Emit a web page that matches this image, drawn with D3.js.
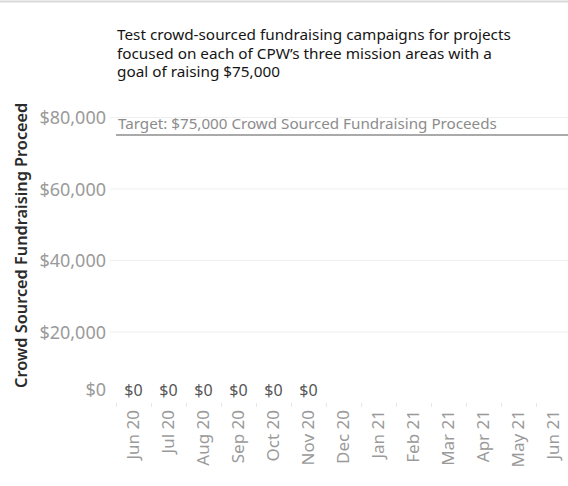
<!DOCTYPE html>
<html lang="en">
<head>
<meta charset="UTF-8">
<title>Crowd Sourced Fundraising Proceeds</title>
<script src="https://d3js.org/d3.v7.min.js"></script>
<style>
    body { margin: 0; background: #fff; }
    svg { display: block; font-family: "Noto Sans", "Open Sans", sans-serif; }
</style>
</head>
<body>
<script>
    // data
    const months = ["Jun 20", "Jul 20", "Aug 20", "Sep 20", "Oct 20", "Nov 20", "Dec 20",
                    "Jan 21", "Feb 21", "Mar 21", "Apr 21", "May 21", "Jun 21"];
    const proceeds = [0, 0, 0, 0, 0, 0];   // only Jun–Nov 20 have values
    const yTicks = [0, 20000, 40000, 60000, 80000];
    const target = 75000;
    const titleLines = ["Test crowd-sourced fundraising campaigns for projects",
                        "focused on each of CPW\u2019s three mission areas with a",
                        "goal of raising $75,000"];

    const width = 568, height = 486;
    const svg = d3.select("body").append("svg")
        .attr("width", width)
        .attr("height", height);

    // top border
    svg.append("line")
        .attr("x1", 0).attr("x2", width)
        .attr("y1", 1.5).attr("y2", 1.5)
        .attr("stroke", "#d9d9d9").attr("stroke-width", 2);

    // title
    svg.append("text")
        .attr("x", 117).attr("y", 40)
        .attr("fill", "#151515").attr("font-size", 15.3)
        .selectAll("tspan").data(titleLines).enter().append("tspan")
        .attr("x", 117)
        .attr("dy", (d, i) => i ? 18.5 : 0)
        .text(d => d);

    const x = d3.scaleBand().domain(months).range([116, 571]);
    const y = d3.scaleLinear().domain([0, 80000]).range([403, 117]);
    const fmt = d3.format("$,.0f");

    // gridlines
    svg.append("g").selectAll("line").data(yTicks.filter(d => d > 0)).enter().append("line")
        .attr("x1", 110).attr("x2", width)
        .attr("y1", d => y(d) + 0.5).attr("y2", d => y(d) + 0.5)
        .attr("stroke", "#efefef");

    // y tick labels
    svg.append("g").selectAll("text").data(yTicks).enter().append("text")
        .attr("x", 106)
        .attr("y", d => d === 0 ? 390 : y(d) + 1)
        .attr("dy", "0.35em")
        .attr("text-anchor", "end")
        .attr("fill", "#9a9a9a").attr("font-size", 18)
        .text(d => fmt(d));

    // y axis title (clipped by the pane top)
    svg.append("clipPath").attr("id", "yclip")
        .append("rect").attr("x", 0).attr("y", 103).attr("width", 40).attr("height", 300);
    svg.append("g").attr("clip-path", "url(#yclip)")
        .append("text")
        .attr("transform", "translate(27,388) rotate(-90)")
        .attr("fill", "#2b2b2b").attr("font-size", 16.3).attr("font-weight", 600)
        .text("Crowd Sourced Fundraising Proceeds");

    // target reference line
    svg.append("line")
        .attr("x1", 116).attr("x2", width)
        .attr("y1", y(target)).attr("y2", y(target))
        .attr("stroke", "#aaa").attr("stroke-width", 2);
    svg.append("text")
        .attr("x", 118).attr("y", y(target) - 6)
        .attr("fill", "#8c8c8c").attr("font-size", 15.2)
        .text("Target: $75,000 Crowd Sourced Fundraising Proceeds");

    // bars (zero height) and labels
    const data = proceeds.map((v, i) => ({month: months[i], value: v}));
    svg.append("g").selectAll("rect").data(data).enter().append("rect")
        .attr("x", d => x(d.month) + 4)
        .attr("width", x.bandwidth() - 8)
        .attr("y", d => y(d.value))
        .attr("height", d => y(0) - y(d.value))
        .attr("fill", "#4e79a7");
    svg.append("g").selectAll("text").data(data).enter().append("text")
        .attr("x", d => x(d.month) + x.bandwidth() / 2)
        .attr("y", d => y(d.value) - 13)
        .attr("dy", "0.35em")
        .attr("text-anchor", "middle")
        .attr("fill", "#555").attr("font-size", 16)
        .text(d => fmt(d.value));

    // x axis
    const xAxis = svg.append("g")
        .attr("transform", "translate(0,403)")
        .call(d3.axisBottom(x).tickSize(0).tickPadding(0));
    xAxis.select(".domain").remove();
    xAxis.selectAll(".tick text")
        .attr("transform", "rotate(-90)")
        .attr("x", -7).attr("y", 0).attr("dy", "0.35em")
        .attr("text-anchor", "end")
        .attr("fill", "#9a9a9a").attr("font-size", 17)
        .attr("font-family", "Noto Sans, sans-serif");
    svg.append("g").selectAll("line").data(months).enter().append("line")
        .attr("x1", d => x(d) + 0.5).attr("x2", d => x(d) + 0.5)
        .attr("y1", 403).attr("y2", 407)
        .attr("stroke", "#e6e6e6");
</script>
</body>
</html>
